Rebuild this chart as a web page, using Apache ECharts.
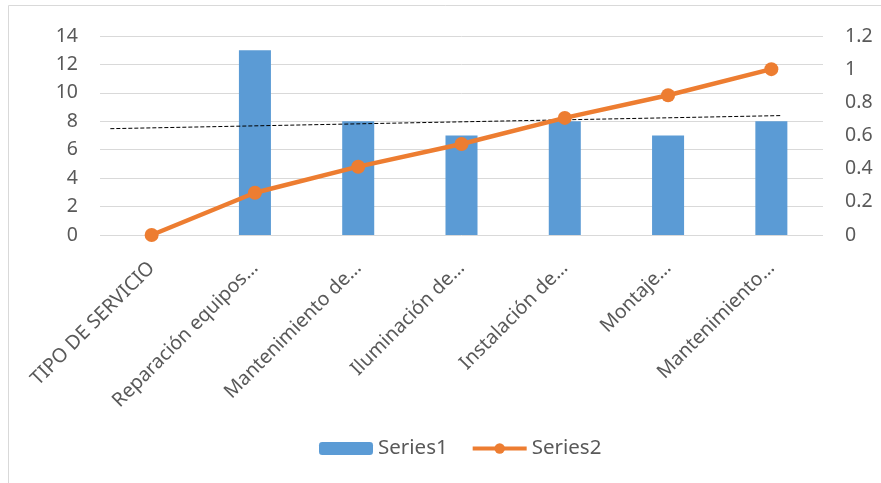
<!DOCTYPE html>
<html>
<head>
<meta charset="utf-8">
<script src="https://cdn.jsdelivr.net/npm/echarts@6/dist/echarts.min.js"></script>
<style>
  html, body { margin: 0; padding: 0; background: #fff; }
  #chart { width: 881px; height: 483px; }
</style>
</head>
<body>
<div id="chart"></div>
<script>
// Service categories (labels shortened as shown on the axis)
const categories = [
  'TIPO DE SERVICIO',
  'Reparación equipos…',
  'Mantenimiento de…',
  'Iluminación de…',
  'Instalación de…',
  'Montaje…',
  'Mantenimiento…'
];
// Count per service
const series1 = [null, 13, 8, 7, 8, 7, 8];
// Cumulative share
const series2 = [0, 0.255, 0.412, 0.549, 0.706, 0.843, 1.0];
// Linear trend of Series1 (start / end along the category scale)
const trendX = [-0.4, 6.09];
const trendY = [7.48, 8.40];

const leftTicks = { min: 0, max: 14, interval: 2 };
const rightTicks = { min: 0, max: 1.2, interval: 0.2 };

const FONT = '"Noto Sans", "Open Sans", sans-serif';
const TEXT = '#595959';

const chart = echarts.init(document.getElementById('chart'), null, { renderer: 'canvas' });

chart.setOption({
  animation: false,
  textStyle: { fontFamily: FONT },
  graphic: [{
    type: 'rect',
    shape: { x: 8.5, y: 5.5, width: 900, height: 500 },
    style: { fill: 'none', stroke: '#d9d9d9', lineWidth: 1 },
    silent: true,
    z: -1
  }],
  grid: { left: 100, right: 58, top: 36, bottom: 248, containLabel: false },
  legend: {
    data: [
      { name: 'Series1' },
      { name: 'Series2', lineStyle: { width: 4 }, itemStyle: { color: '#ED7D31' } }
    ],
    bottom: 19,
    left: 314,
    itemGap: 23,
    itemWidth: 54,
    itemHeight: 13,
    textStyle: { color: TEXT, fontSize: 20.5, fontFamily: FONT }
  },
  xAxis: [{
    type: 'category',
    data: categories,
    axisLine: { show: false },
    axisTick: { show: false },
    axisLabel: {
      rotate: 45,
      interval: 0,
      margin: 30,
      color: TEXT,
      fontSize: 19.5,
      fontFamily: FONT
    }
  }, {
    type: 'value',
    min: -0.5,
    max: 6.5,
    show: false
  }],
  yAxis: [{
    type: 'value',
    min: leftTicks.min,
    max: leftTicks.max,
    interval: leftTicks.interval,
    axisLine: { show: false },
    axisTick: { show: false },
    axisLabel: { color: TEXT, fontSize: 19.5, fontFamily: FONT, margin: 22 },
    splitLine: { lineStyle: { color: '#d9d9d9', width: 1 } }
  }, {
    type: 'value',
    min: rightTicks.min,
    max: rightTicks.max,
    interval: rightTicks.interval,
    position: 'right',
    axisLine: { show: false },
    axisTick: { show: false },
    axisLabel: { color: TEXT, fontSize: 19.5, fontFamily: FONT, margin: 22 },
    splitLine: { show: false }
  }],
  series: [{
    name: 'Series1',
    type: 'bar',
    data: series1,
    barWidth: '31%',
    itemStyle: { color: '#5B9BD5' },
    z: 1
  }, {
    name: 'trend',
    type: 'line',
    xAxisIndex: 1,
    yAxisIndex: 0,
    data: trendX.map((x, i) => [x, trendY[i]]),
    symbol: 'none',
    lineStyle: { color: '#000', width: 1, type: [4, 2] },
    silent: true,
    z: 3
  }, {
    name: 'Series2',
    type: 'line',
    yAxisIndex: 1,
    data: series2,
    symbol: 'circle',
    symbolSize: 14,
    itemStyle: { color: '#ED7D31' },
    lineStyle: { color: '#ED7D31', width: 4.5 },
    z: 4
  }]
});
</script>
</body>
</html>
